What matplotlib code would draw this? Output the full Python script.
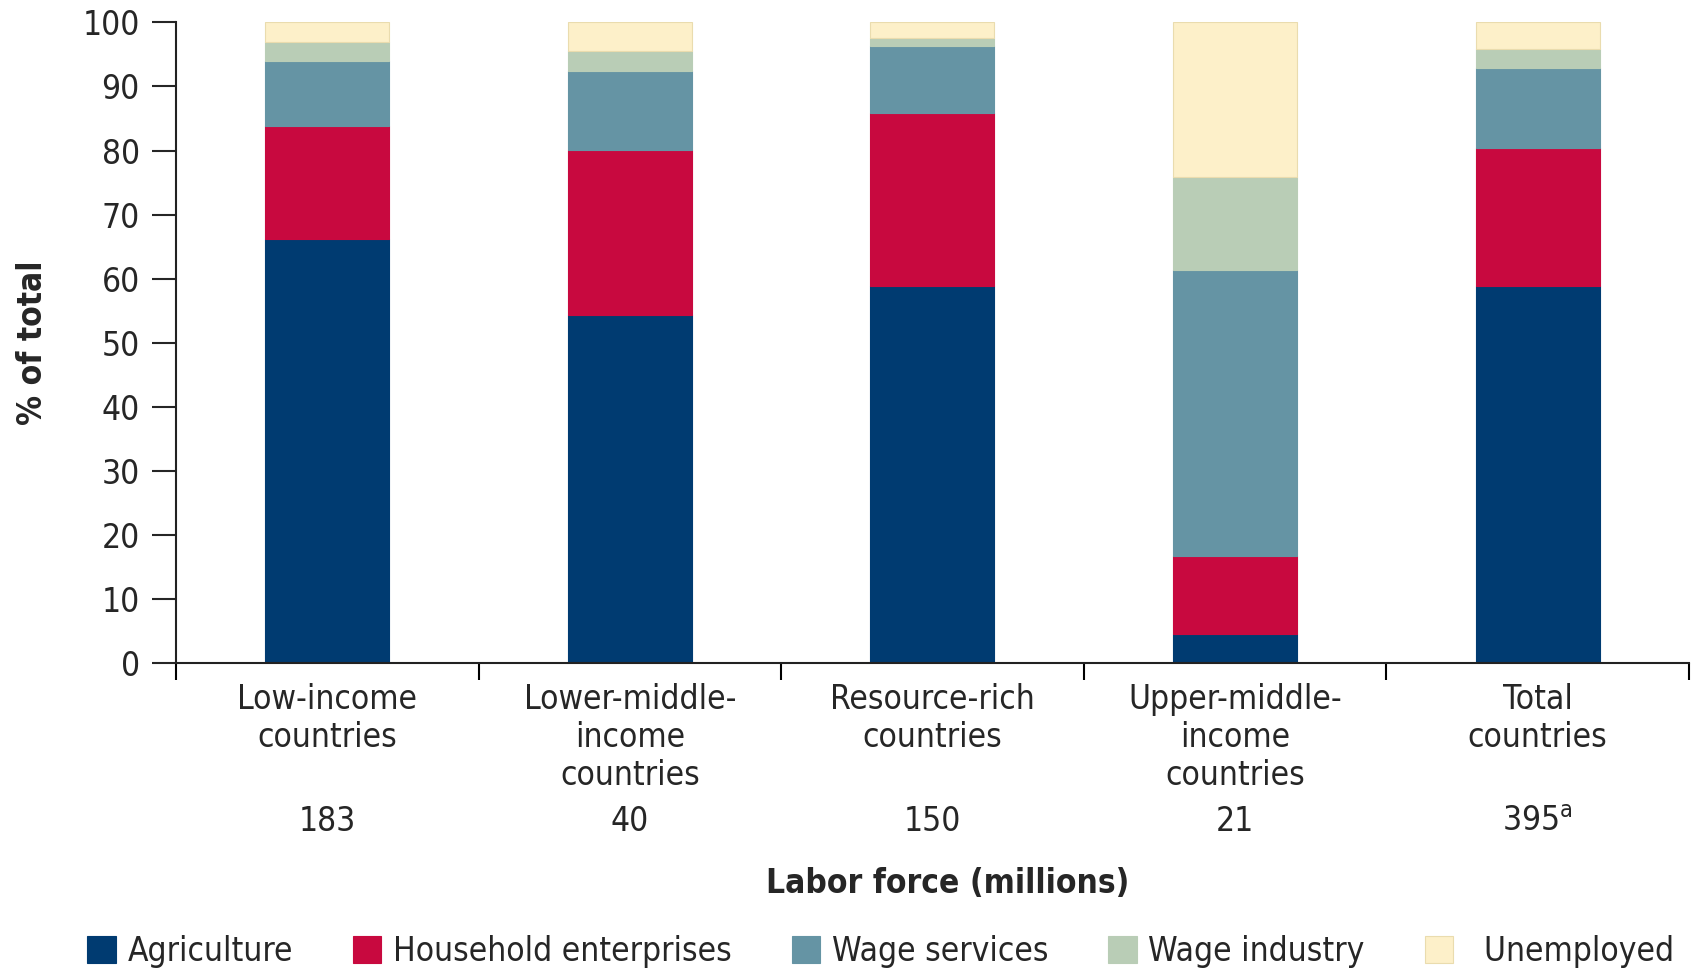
import matplotlib.pyplot as plt
import numpy as np

plt.rcParams['font.family'] = ['DejaVu Sans']
plt.rcParams['font.stretch'] = 'condensed'

categories = ["Low-income\ncountries", "Lower-middle-\nincome\ncountries", "Resource-rich\ncountries",
              "Upper-middle-\nincome\ncountries", "Total\ncountries"]
labor_force = ["183", "40", "150", "21", "395$^{\\mathrm{a}}$"]

agriculture = [66.2, 54.4, 58.8, 4.6, 58.8]
household = [17.6, 25.7, 27.0, 12.1, 21.6]
wage_services = [10.1, 12.3, 10.5, 44.6, 12.5]
wage_industry = [3.1, 3.2, 1.2, 14.5, 3.0]
unemployed = [3.0, 4.4, 2.5, 24.2, 4.1]

series = [("Agriculture", agriculture, "#003b71"),
          ("Household enterprises", household, "#c8093f"),
          ("Wage services", wage_services, "#6594a4"),
          ("Wage industry", wage_industry, "#b9cdb6"),
          ("  Unemployed", unemployed, "#fdf0c9")]

txt = "#262626"
fs = 24
fig = plt.figure(figsize=(17, 9.71), dpi=100)
ax = fig.add_axes([0.1035, 0.317, 0.89, 0.66])

x = np.arange(len(categories))
bottom = np.zeros(len(categories))
for name, vals, col in series:
    ec = "#eadcae" if name.strip() == "Unemployed" else col
    ax.bar(x, vals, 0.41, bottom=bottom, color=col, edgecolor=ec, linewidth=0.8, label=name)
    bottom += np.array(vals)

ax.set_xlim(-0.5, 4.5)
ax.set_ylim(0, 100)
ax.set_yticks(np.arange(0, 101, 10))
ax.tick_params(axis='y', direction='out', length=17, width=1.5, labelsize=fs, colors=txt, pad=9)
ax.set_xticks(np.arange(-0.5, 4.6, 1))
ax.set_xticklabels([])
ax.tick_params(axis='x', which='major', direction='out', length=12, width=1.5)
ax.set_xticks(x, minor=True)
ax.set_xticklabels(categories, minor=True, fontsize=fs, color=txt, linespacing=1.2)
ax.tick_params(axis='x', which='minor', length=0, pad=14)

for s in ['top', 'right']:
    ax.spines[s].set_visible(False)
for s in ['left', 'bottom']:
    ax.spines[s].set_linewidth(1.5)
    ax.spines[s].set_color('#222222')

for xi, lf in zip(x, labor_force):
    ax.annotate(lf, (xi, 0), xycoords=('data', 'axes fraction'), xytext=(0, -114),
                textcoords='offset points', ha='center', va='center', fontsize=fs, color=txt)

ax.set_ylabel("% of total", fontsize=fs, fontweight='bold', color=txt, labelpad=24)
fig.text(0.5575, 0.0896, "Labor force (millions)", ha='center', va='center', fontsize=fs,
         fontweight='bold', color=txt)

fig.legend(loc='center', bbox_to_anchor=(0.518, 0.02), ncol=5, frameon=False, fontsize=fs,
           handlelength=0.85, handleheight=0.85, handletextpad=0.35, columnspacing=1.8,
           labelcolor=txt)

fig.savefig("out.png", dpi=100)
